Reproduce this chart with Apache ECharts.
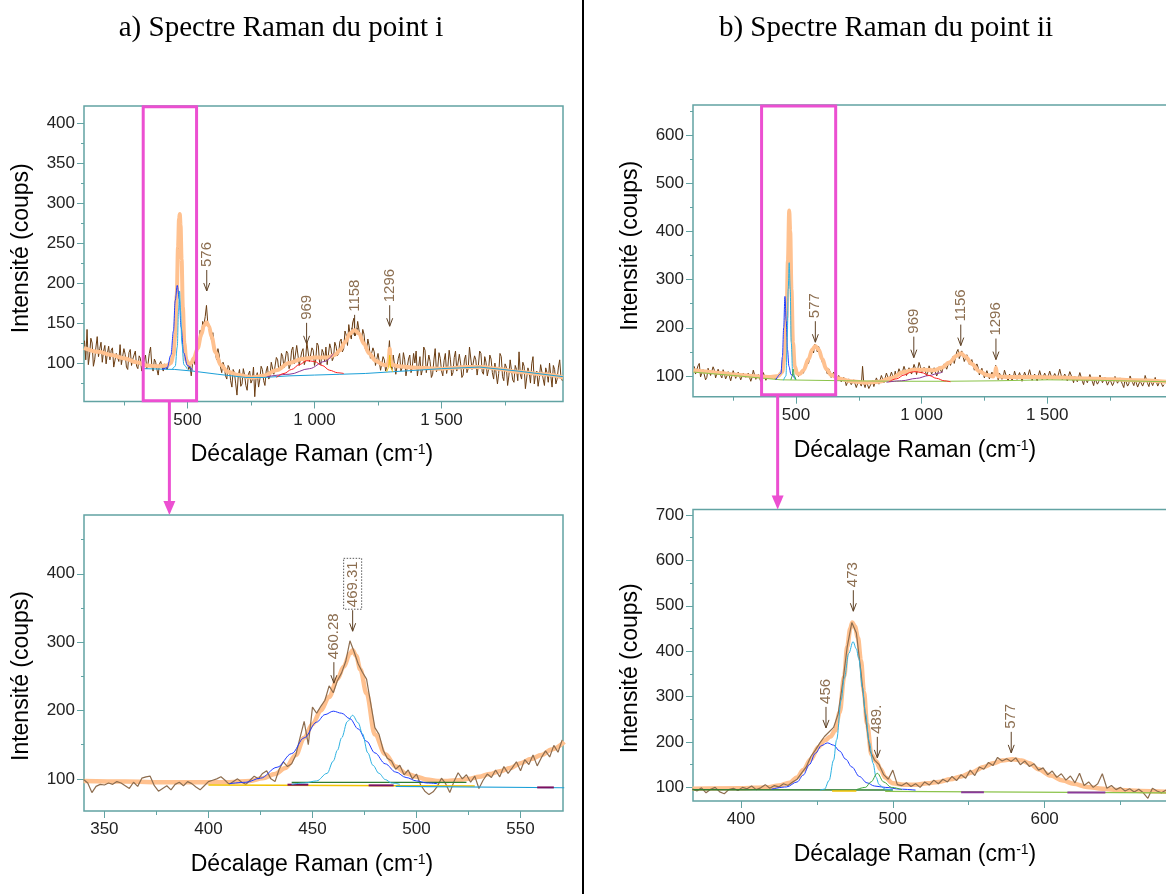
<!DOCTYPE html>
<html><head><meta charset="utf-8">
<script src="https://cdn.jsdelivr.net/npm/echarts@6/dist/echarts.min.js"></script>
<style>html,body{margin:0;padding:0;background:#fff}#c{width:1166px;height:894px}</style>
</head><body><div id="c"></div>
<script>
// ================= DATA =================
const titleA = 'a) Spectre Raman du point i';
const titleB = 'b) Spectre Raman du point ii';
const yAxisTitle = 'Intensité (coups)';
const xAxisTitle = 'Décalage Raman (cm{s|-1})';

// ---- Panel a (top): full spectrum, point i ----
const aTopRawX0 = 95, aTopRawDx = 5;
const aTopRaw = [
128,104,142,98,110,131,125,96,104,120,133,108,118,126,101,115,122,99,112,121,
104,116,119,95,96,112,114,102,123,98,100,118,111,95,92,113,117,97,105,110,
115,96,93,109,106,90,88,104,110,93,99,112,120,96,90,105,101,92,85,99,
102,95,90,99,98,92,94,101,104,108,118,135,165,210,255,280,262,205,160,128,
112,101,92,96,84,99,104,98,110,116,122,141,130,152,148,158,172,150,146,138,
128,138,120,112,104,118,110,95,88,101,96,84,80,97,94,78,70,92,88,74,
60,84,92,71,74,93,85,72,66,86,90,75,79,95,58,82,88,70,80,96,
92,78,72,90,96,80,84,101,100,86,88,107,104,90,93,112,108,94,96,115,
112,93,98,116,120,99,101,122,110,97,95,114,118,98,104,126,124,102,100,119,
116,97,104,125,122,101,98,117,113,102,120,98,99,124,118,103,107,126,121,109,
112,127,130,114,118,140,135,122,148,136,130,150,156,134,138,152,150,131,128,142,
136,118,115,130,122,106,104,119,114,97,98,112,110,91,93,108,104,90,96,106,
128,100,92,110,108,86,88,106,112,90,94,113,104,84,86,105,110,88,95,112,
100,115,84,96,108,85,92,120,116,88,90,110,102,82,86,104,118,89,94,113,
106,90,84,103,112,87,96,116,104,84,88,107,115,90,92,111,100,82,85,104,
110,88,93,120,118,92,90,109,104,85,97,115,112,89,86,108,101,84,92,110,
105,88,80,100,98,74,87,112,108,83,78,99,95,72,84,104,102,79,76,97,
92,78,114,86,80,101,96,68,70,94,88,75,99,108,74,86,90,71,82,98,
96,80,72,94,88,76,100,84,70,97,92,74,80,95,104,82,78];
const aTopFitX = [93,150,200,250,300,340,380,420,435,445,452,458,463,467,470,473,477,482,488,495,505,515,525,540,555,565,575,585,595,610,630,660,700,750,800,850,900,950,1000,1050,1080,1100,1120,1140,1158,1175,1195,1215,1240,1270,1288,1293,1296,1299,1304,1330,1400,1500,1600,1660,1720,1800,1900,1978];
const aTopFitY = [119,114,110,106,101,97,96,97,100,110,135,185,245,280,286,272,230,170,125,104,98,100,106,118,136,147,151,146,133,114,98,89,85,82,84,91,100,105,107,107,110,116,126,137,141,137,124,112,103,98,97,106,118,106,98,96,94,93,95,95,93,89,86,82];
const aTopBlueX = [400,420,435,445,452,460,468,475,485,500,520];
const aTopBlueY = [92,94,110,140,178,197,180,145,113,97,91];
const aTopCyanX = [440,452,460,465,469,473,478,486,500];
const aTopCyanY = [92,96,120,165,190,165,125,98,92];
const aTopRedX = [850,880,910,940,970,1000,1030,1060,1090,1115];
const aTopRedY = [82,87,92,98,103,102,97,91,88,87];
const aTopPurpleX = [812,900,980,1040,1075];
const aTopPurpleY = [83,86,93,102,112];
const aTopBaseX = [330,450,520,620,730,800,900,1000,1100,1200,1300,1400,1500,1650,1800,1978];
const aTopBaseY = [93,92,90,86,82,82,84,85,86,87,89,91,93,95,90,83];
const aTopYellowX = [1284,1292,1296,1300,1308];
const aTopYellowY = [89,94,110,94,89];
const aTopAnnX = [576, 969, 1158, 1296];
const aTopAnnY = [190, 124, 134, 146];
const aTopAnnT = ['576', '969', '1158', '1296'];
const aTopZoomBox = [326, 53, 536, 420];   // x1, y1, x2, y2 (data units)
const aTopZoomLinkX = 429;

// ---- Panel b (top): full spectrum, point ii ----
const bTopRawX0 = 95, bTopRawDx = 5;
const bTopRaw = [
120,104,108,121,126,98,101,113,115,92,97,116,118,101,104,119,112,96,99,114,
110,101,96,113,116,94,100,109,107,90,93,111,112,95,98,108,105,92,95,106,
108,97,94,106,103,89,97,112,110,93,91,103,100,88,95,107,104,91,90,102,
101,94,93,100,99,92,96,103,104,109,115,128,150,205,330,400,430,345,250,155,
125,112,108,99,100,110,112,106,118,128,130,126,140,152,158,148,166,158,150,161,
152,140,128,130,122,112,104,115,110,97,96,108,104,92,90,101,98,88,86,97,
92,80,84,94,96,82,80,92,90,76,78,91,88,79,120,84,76,89,86,74,
70,85,90,78,80,96,94,83,82,101,99,86,88,106,104,91,92,108,100,94,
110,96,98,115,118,102,104,120,112,101,100,117,121,104,108,124,116,103,106,128,
120,106,104,118,115,101,108,121,122,104,103,117,114,100,106,119,118,107,110,125,
124,114,112,131,122,118,140,126,128,150,155,136,138,152,148,130,132,144,138,124,
122,134,130,112,110,125,118,102,104,116,112,96,98,111,108,94,96,108,104,98,
122,104,92,106,110,93,98,112,114,95,90,104,106,91,96,110,112,93,94,107,
104,89,92,108,110,94,96,113,114,91,88,104,102,90,94,111,108,92,90,106,
104,92,96,110,112,93,90,105,106,94,98,114,116,92,88,104,102,90,94,109,
112,95,86,99,100,88,92,107,108,89,82,97,98,86,90,103,106,88,80,95,
96,83,88,102,104,86,84,97,98,81,78,93,94,80,86,99,100,85,82,96,
92,82,76,94,96,79,84,100,104,86,80,93,92,77,74,90,90,79,86,101,
98,84,78,92,90,80,84,97,96,79,76,91,88,78,82];
const bTopFitX = [92,150,200,250,300,350,400,430,445,455,462,468,473,477,482,488,495,505,515,530,550,565,577,590,605,620,640,670,720,780,830,880,930,970,1010,1050,1080,1110,1140,1156,1175,1200,1230,1260,1285,1292,1296,1300,1306,1350,1450,1550,1650,1750,1850,1977];
const bTopFitY = [112,109,106,103,101,99,98,100,108,140,220,340,443,400,280,170,120,105,104,112,135,155,162,155,135,115,102,95,89,86,88,96,108,113,113,112,117,128,142,147,140,125,110,102,99,105,117,105,99,98,98,97,95,93,91,88];
const bTopBlueX = [420,440,446,451,456,461,466,472,480,495];
const bTopBlueY = [92,105,140,200,265,215,155,120,103,95];
const bTopCyanX = [450,460,465,469,473,477,481,487,497];
const bTopCyanY = [91,100,170,280,335,280,170,105,92];
const bTopGreenX = [480,485,489,493,500];
const bTopGreenY = [92,100,114,100,92];
const bTopRedX = [870,900,930,960,975,1000,1030,1060,1090,1115];
const bTopRedY = [88,94,102,108,109,107,101,95,90,88];
const bTopPurpleX = [860,920,980,1030,1070,1085];
const bTopPurpleY = [87,90,95,101,106,109];
const bTopBaseX = [92,250,440,700,900,1100,1300,1500,1700,1977];
const bTopBaseY = [108,101,92,90,89,89,90,92,91,88];
const bTopAnnX = [577, 969, 1156, 1296];
const bTopAnnY = [170, 138, 163, 134];
const bTopAnnT = ['577', '969', '1156', '1296'];
const bTopZoomBox = [363, 61, 658, 660];
const bTopZoomLinkX = 427;

// ---- Panel a (bottom): zoom 340-570 ----
const aBotRawX0 = 340, aBotRawDx = 2;
const aBotRaw = [
99,94,80,89,92,91,94,92,96,94,
90,86,95,89,101,103,104,90,82,86,
90,84,92,95,90,96,93,88,84,90,
96,98,100,103,98,92,96,100,95,92,
98,104,100,108,112,100,96,114,125,118,
122,135,160,184,150,205,196,206,215,236,
226,244,255,272,302,286,268,256,246,210,
175,165,142,130,126,114,120,106,113,100,
107,91,82,77,81,89,101,93,80,96,
109,100,106,95,104,86,98,107,102,113,
103,118,108,116,125,112,128,121,135,119,
131,141,132,149,139,157];
const aBotFitX = [340,360,380,400,410,420,426,432,437,442,446,450,454,458,462,465,468,469.3,471,473,476,480,485,490,495,500,505,510,515,520,525,530,535,540,545,550,555,560,565,571];
const aBotFitY = [97,96,95,95,95,97,101,107,116,135,160,180,200,220,246,264,283,288,280,260,225,165,136,118,108,103,99,97,97,98,100,103,107,111,116,123,129,135,143,154];
const aBotBlueX = [410,418,425,433,440,446,452,456,460,464,468,472,476,480,485,490,495,500,505,510];
const aBotBlueY = [93,95,101,117,137,160,183,194,199,196,188,173,155,138,122,110,102,97,94,93];
const aBotCyanX = [440,446,452,457,460,462,464,466.8,469.3,472,474,476.6,479,482,485,488,492];
const aBotCyanY = [92,94,97,108,126,142,160,184,193,182,166,138,120,108,99,94,92];
const aBotYellowX = [400,528], aBotYellowY = [91,89.5];
const aBotGreenX = [440,524], aBotGreenY = [95,95];
const aBotBaseX = [490,571], aBotBaseY = [89,87];
const aBotMaroon1X = [438,448], aBotMaroon1Y = [91.5,91.5];
const aBotMaroon2X = [477,489], aBotMaroon2Y = [90.5,90.5];
const aBotMaroon3X = [558,566], aBotMaroon3Y = [87.5,87.5];
const aBotAnnX = [460.28, 469.31];
const aBotAnnY = [240, 316];
const aBotAnnT = ['460.28', '469.31'];
const aBotAnnBoxed = [false, true];

// ---- Panel b (bottom): zoom 368-680 ----
const bBotRawX0 = 368, bBotRawDx = 3;
const bBotRaw = [
97,92,99,88,96,100,90,86,95,98,
93,100,97,103,95,99,106,98,104,101,
108,104,112,118,132,145,168,182,198,212,
222,232,262,330,410,463,440,355,255,180,
160,150,128,118,138,106,104,110,102,108,
100,112,105,116,108,118,112,124,115,128,
120,138,126,145,140,155,148,166,158,163,
157,165,150,158,146,152,138,143,128,136,
122,130,116,125,110,131,104,112,100,108,
130,98,104,95,100,92,97,90,96,88,
76,98,92,88,94];
const bBotFitX = [368,400,417,425,432,437,441,446,451,455,459,462,465,468,470,472,473.3,475,477,479,481,483,486,489,492,495,500,507,515,523,530,538,545,552,560,566,572,579,585,590,596,604,612,619,628,638,650,663,681];
const bBotFitY = [97,98,100,104,110,122,138,162,189,203,212,225,265,345,410,450,463,455,430,380,310,240,172,157,140,122,109,106,106,109,112,118,124,133,145,153,159,162,159,153,140,126,115,108,101,97,94,92,90];
const bBotBlueX = [420,430,437,441,445,449,453,457,461,465,469,473,478,483,488,495,505,515];
const bBotBlueY = [96,101,112,127,150,175,192,198,193,180,162,145,124,110,103,100,96,94];
const bBotCyanX = [452,455,458,461,463,466,468,471,473.8,476,477.5,480,482,484.5,487,489,491,495,500];
const bBotCyanY = [94,96,115,160,205,292,340,395,421,405,385,320,263,200,153,122,106,96,94];
const bBotGreenX = [476,482,485.6,489.8,494,499,506];
const bBotGreenY = [95,100,112,131,112,100,95];
const bBotBase1X = [368,500], bBotBase1Y = [95,94];
const bBotBase2X = [495,681], bBotBase2Y = [91,88];
const bBotPurple1X = [545,560], bBotPurple1Y = [89,89];
const bBotPurple2X = [615,640], bBotPurple2Y = [88.5,88.5];
const bBotYellowX = [460,476], bBotYellowY = [92,92];
const bBotAnnX = [456, 474, 489.8, 578];
const bBotAnnY = [231, 488, 165, 176];
const bBotAnnT = ['456', '473', '489.', '577'];

// ---- axes: ranges and ticks ----
const aTopXRange = [93, 1978], aTopYRange = [52, 421];
const bTopXRange = [90, 1977], bTopYRange = [57, 662];
const aBotXRange = [340.2, 570.4], aBotYRange = [53, 486];
const bBotXRange = [368.4, 680.6], bBotYRange = [70, 712];
const topXMajor = [500, 1000, 1500], topXMinor = [250, 750, 1250, 1750];
const aTopYMajor = [100,150,200,250,300,350,400], aTopYMinor = [75,125,175,225,275,325,375];
const bTopYMajor = [100,200,300,400,500,600], bTopYMinor = [150,250,350,450,550,650];
const aBotXMajor = [350,400,450,500,550], aBotXMinor = [375,425,475,525];
const aBotYMajor = [100,200,300,400], aBotYMinor = [150,250,350,450];
const bBotXMajor = [400,500,600], bBotXMinor = [450,550,650];
const bBotYMajor = [100,200,300,400,500,600,700], bBotYMinor = [150,250,350,450,550,650];

// ================= STYLE =================
const SANS = '"Liberation Sans", Arial, sans-serif';
const SERIF = '"Liberation Serif", "Times New Roman", serif';
const TEAL = '#62a3a3';
const MAG = '#EC4FD1';
const ORANGE = '#FFC18F';
const RAW_DARK = '#6b3d12';
const RAW_LIGHT = '#8d6d4f';
const ANN_TXT = '#8c6e50';
const ANN_ARR = '#5e4125';
const C_BLUE = '#1f3cff', C_CYAN = '#2cb2e2', C_RED = '#ff1f1f', C_PURPLE = '#8a3a9a',
      C_BASE = '#1ba0d8', C_YEL = '#f2c200', C_GREEN = '#3aa53a', C_DKGREEN = '#2e7d32',
      C_OLIVE = '#8bc34a', C_MAROON = '#7a1060';

const layout = [
  {left: 84, top: 106, width: 479, height: 295.5, xPad: [0, 23, 0, 0], yPad: [0, 0, 0, 11]},
  {left: 693, top: 105, width: 474, height: 291.7, xPad: [0, 30, 0, 0], yPad: [0, 0, 0, 10]},
  {left: 84, top: 515, width: 479, height: 296, xPad: [0, 23, 0, 0], yPad: [0, 26, 0, 0]},
  {left: 693, top: 509.5, width: 474, height: 291.5, xPad: [0, 30, 0, 0], yPad: [0, 26, 0, 0]}
];
const axesDef = [
  {x: aTopXRange, y: aTopYRange, xMaj: topXMajor, xMin: topXMinor, yMaj: aTopYMajor, yMin: aTopYMinor},
  {x: bTopXRange, y: bTopYRange, xMaj: topXMajor, xMin: topXMinor, yMaj: bTopYMajor, yMin: bTopYMinor},
  {x: aBotXRange, y: aBotYRange, xMaj: aBotXMajor, xMin: aBotXMinor, yMaj: aBotYMajor, yMin: aBotYMinor},
  {x: bBotXRange, y: bBotYRange, xMaj: bBotXMajor, xMin: bBotXMinor, yMaj: bBotYMajor, yMin: bBotYMinor}
];

function fmtNum(v) {
  const s = String(Math.round(v));
  return s.length > 3 ? s.slice(0, s.length - 3) + ' ' + s.slice(-3) : s;
}

const grids = layout.map(l => ({left: l.left, top: l.top, width: l.width, height: l.height,
  show: true, borderColor: TEAL, borderWidth: 1.5, backgroundColor: 'rgba(0,0,0,0)',
  containLabel: false, outerBoundsMode: 'none'}));

const xAxes = [], yAxes = [];
axesDef.forEach((a, p) => {
  xAxes.push({type: 'value', gridIndex: p, position: 'bottom', min: a.x[0], max: a.x[1],
    axisLine: {show: false}, splitLine: {show: false},
    axisTick: {show: true, customValues: a.xMaj, length: 7, lineStyle: {color: TEAL, width: 1}},
    axisLabel: {show: true, customValues: a.xMaj, formatter: fmtNum, margin: 10,
      fontSize: 17, fontFamily: SANS, color: '#222'},
    name: xAxisTitle, nameLocation: 'middle', nameGap: 42,
    nameTextStyle: {fontSize: 23, fontFamily: SANS, color: '#000', padding: layout[p].xPad,
      rich: {s: {fontSize: 14, fontFamily: SANS, color: '#000', verticalAlign: 'top'}}}});
  yAxes.push({type: 'value', gridIndex: p, position: 'left', min: a.y[0], max: a.y[1],
    axisLine: {show: false}, splitLine: {show: false},
    axisTick: {show: true, customValues: a.yMaj, length: 7, lineStyle: {color: TEAL, width: 1}},
    axisLabel: {show: true, customValues: a.yMaj, formatter: fmtNum, margin: 9,
      fontSize: 17, fontFamily: SANS, color: '#222'},
    name: yAxisTitle, nameLocation: 'middle', nameGap: 51,
    nameTextStyle: {fontSize: 23, fontFamily: SANS, color: '#000', padding: layout[p].yPad}});
});
axesDef.forEach((a, p) => {
  xAxes.push({type: 'value', gridIndex: p, position: 'bottom', min: a.x[0], max: a.x[1],
    axisLine: {show: false}, splitLine: {show: false}, axisLabel: {show: false},
    axisTick: {show: true, customValues: a.xMin, length: 4, lineStyle: {color: TEAL, width: 1}}});
  yAxes.push({type: 'value', gridIndex: p, position: 'left', min: a.y[0], max: a.y[1],
    axisLine: {show: false}, splitLine: {show: false}, axisLabel: {show: false},
    axisTick: {show: true, customValues: a.yMin, length: 3, lineStyle: {color: TEAL, width: 1}}});
});

function lineS(p, xs, ys, color, width, z, smooth) {
  return {type: 'line', xAxisIndex: p, yAxisIndex: p, data: xs.map((x, i) => [x, ys[i]]),
    showSymbol: false, symbol: 'none', smooth: smooth ? 0.35 : false,
    smoothMonotone: smooth ? 'x' : undefined, lineStyle: {color: color, width: width},
    z: z, silent: true, animation: false, clip: true};
}
function rawS(p, x0, dx, ys, color, width, z) {
  return {type: 'line', xAxisIndex: p, yAxisIndex: p, data: ys.map((y, i) => [x0 + i * dx, y]),
    showSymbol: false, symbol: 'none', lineStyle: {color: color, width: width},
    z: z, silent: true, animation: false, clip: true};
}
const _ctx = document.createElement('canvas').getContext('2d');
const ANN_FONT = '15px ' + SANS;
_ctx.font = ANN_FONT;
function annS(p, xs, ys, texts, boxed, z) {
  return {type: 'custom', xAxisIndex: p, yAxisIndex: p, z: z, silent: true, animation: false,
    data: xs.map((x, i) => [x, ys[i]]),
    renderItem: function (params, api) {
      const i = params.dataIndex;
      const pt = api.coord([api.value(0), api.value(1)]);
      const L = 21, gap = 3;
      const tx = pt[0], tail = pt[1] - L;
      const ch = [
        {type: 'line', shape: {x1: tx, y1: tail, x2: tx, y2: pt[1]}, style: {stroke: ANN_ARR, lineWidth: 1}},
        {type: 'polyline', shape: {points: [[tx - 3, pt[1] - 8], [tx, pt[1]], [tx + 3, pt[1] - 8]]},
          style: {stroke: ANN_ARR, lineWidth: 1, fill: null}},
        {type: 'text', x: tx, y: tail - gap, rotation: Math.PI / 2,
          style: {text: texts[i], fill: ANN_TXT, font: ANN_FONT, align: 'left', verticalAlign: 'middle',
            textAlign: 'left', textVerticalAlign: 'middle'}}
      ];
      if (boxed && boxed[i]) {
        const w = _ctx.measureText(texts[i]).width;
        ch.push({type: 'rect', shape: {x: tx - 9, y: tail - gap - w - 3, width: 18, height: w + 5},
          style: {fill: null, stroke: '#5a5a5a', lineWidth: 1, lineDash: [1.5, 1.5]}});
      }
      return {type: 'group', children: ch};
    }};
}
function boxS(p, b) {
  return {type: 'custom', xAxisIndex: p, yAxisIndex: p, z: 20, silent: true, animation: false,
    data: [[b[0], b[1], b[2], b[3]]],
    renderItem: function (params, api) {
      const p1 = api.coord([api.value(0), api.value(1)]);
      const p2 = api.coord([api.value(2), api.value(3)]);
      return {type: 'rect', shape: {x: Math.min(p1[0], p2[0]), y: Math.min(p1[1], p2[1]),
        width: Math.abs(p2[0] - p1[0]), height: Math.abs(p2[1] - p1[1])},
        style: {fill: null, stroke: MAG, lineWidth: 3}};
    }};
}

const series = [
  // panel 0
  annS(0, aTopAnnX, aTopAnnY, aTopAnnT, null, 1),
  rawS(0, aTopRawX0, aTopRawDx, aTopRaw, RAW_DARK, 1, 2),
  lineS(0, aTopFitX, aTopFitY, ORANGE, 4, 3, true),
  lineS(0, aTopBaseX, aTopBaseY, C_BASE, 1, 4, false),
  lineS(0, aTopPurpleX, aTopPurpleY, C_PURPLE, 1, 4, true),
  lineS(0, aTopRedX, aTopRedY, C_RED, 1, 4, true),
  lineS(0, aTopBlueX, aTopBlueY, C_BLUE, 1, 4, true),
  lineS(0, aTopCyanX, aTopCyanY, C_CYAN, 1, 4, true),
  lineS(0, aTopYellowX, aTopYellowY, C_YEL, 1, 4, true),
  boxS(0, aTopZoomBox),
  // panel 1
  annS(1, bTopAnnX, bTopAnnY, bTopAnnT, null, 1),
  rawS(1, bTopRawX0, bTopRawDx, bTopRaw, RAW_DARK, 1, 2),
  lineS(1, bTopFitX, bTopFitY, ORANGE, 4, 3, true),
  lineS(1, bTopBaseX, bTopBaseY, C_OLIVE, 1, 4, false),
  lineS(1, bTopPurpleX, bTopPurpleY, C_PURPLE, 1, 4, true),
  lineS(1, bTopRedX, bTopRedY, C_RED, 1, 4, true),
  lineS(1, bTopBlueX, bTopBlueY, C_BLUE, 1, 4, true),
  lineS(1, bTopCyanX, bTopCyanY, C_CYAN, 1, 4, true),
  lineS(1, bTopGreenX, bTopGreenY, C_GREEN, 1, 4, true),
  boxS(1, bTopZoomBox),
  // panel 2
  lineS(2, aBotFitX, aBotFitY, ORANGE, 4.5, 2, true),
  rawS(2, aBotRawX0, aBotRawDx, aBotRaw, RAW_LIGHT, 1.2, 3),
  lineS(2, aBotYellowX, aBotYellowY, C_YEL, 1.5, 4, false),
  lineS(2, aBotGreenX, aBotGreenY, C_DKGREEN, 1.2, 4, false),
  lineS(2, aBotBaseX, aBotBaseY, C_BASE, 1.2, 4, false),
  lineS(2, aBotMaroon1X, aBotMaroon1Y, C_MAROON, 2, 4, false),
  lineS(2, aBotMaroon2X, aBotMaroon2Y, C_MAROON, 2, 4, false),
  lineS(2, aBotMaroon3X, aBotMaroon3Y, C_MAROON, 2, 4, false),
  lineS(2, aBotBlueX, aBotBlueY, C_BLUE, 1, 4, true),
  lineS(2, aBotCyanX, aBotCyanY, C_CYAN, 1, 4, true),
  annS(2, aBotAnnX, aBotAnnY, aBotAnnT, aBotAnnBoxed, 5),
  // panel 3
  lineS(3, bBotFitX, bBotFitY, ORANGE, 4.5, 2, true),
  rawS(3, bBotRawX0, bBotRawDx, bBotRaw, RAW_LIGHT, 1.2, 3),
  lineS(3, bBotBase1X, bBotBase1Y, C_DKGREEN, 1.5, 4, false),
  lineS(3, bBotBase2X, bBotBase2Y, C_OLIVE, 1.2, 4, false),
  lineS(3, bBotPurple1X, bBotPurple1Y, C_PURPLE, 2, 4, false),
  lineS(3, bBotPurple2X, bBotPurple2Y, C_PURPLE, 2, 4, false),
  lineS(3, bBotYellowX, bBotYellowY, C_YEL, 1.5, 4, false),
  lineS(3, bBotBlueX, bBotBlueY, C_BLUE, 1, 4, true),
  lineS(3, bBotCyanX, bBotCyanY, C_CYAN, 1, 4, true),
  lineS(3, bBotGreenX, bBotGreenY, C_GREEN, 1, 4, true),
  annS(3, bBotAnnX, bBotAnnY, bBotAnnT, null, 5)
];

const staticGraphic = [
  {type: 'text', id: 'tA', x: 281, y: 28, silent: true,
    style: {text: titleA, font: '29px ' + SERIF, fill: '#000', align: 'center', verticalAlign: 'middle',
      textAlign: 'center', textVerticalAlign: 'middle'}},
  {type: 'text', id: 'tB', x: 886, y: 28, silent: true,
    style: {text: titleB, font: '29px ' + SERIF, fill: '#000', align: 'center', verticalAlign: 'middle',
      textAlign: 'center', textVerticalAlign: 'middle'}},
  {type: 'line', id: 'div', silent: true, shape: {x1: 583, y1: 0, x2: 583, y2: 894},
    style: {stroke: '#000', lineWidth: 2}}
];

const chart = echarts.init(document.getElementById('c'), null, {renderer: 'canvas', width: 1166, height: 894});
chart.setOption({
  animation: false, backgroundColor: '#fff',
  grid: grids, xAxis: xAxes, yAxis: yAxes, series: series, graphic: staticGraphic
});

function connector(id, gTop, gBot, xData, yTopVal, xBotMin, yBotMax) {
  const p1 = chart.convertToPixel({gridIndex: gTop}, [xData, yTopVal]);
  const yB = chart.convertToPixel({gridIndex: gBot}, [xBotMin, yBotMax])[1];
  const x = p1[0];
  return [
    {type: 'line', id: id + 'l', silent: true, shape: {x1: x, y1: p1[1], x2: x, y2: yB - 12},
      style: {stroke: MAG, lineWidth: 3}},
    {type: 'polygon', id: id + 'h', silent: true,
      shape: {points: [[x - 6, yB - 14], [x + 6, yB - 14], [x, yB]]}, style: {fill: MAG}}
  ];
}
chart.setOption({graphic: staticGraphic
  .concat(connector('ca', 0, 2, aTopZoomLinkX, aTopZoomBox[1], aBotXRange[0], aBotYRange[1]))
  .concat(connector('cb', 1, 3, bTopZoomLinkX, bTopZoomBox[1], bBotXRange[0], bBotYRange[1]))});
</script></body></html>
